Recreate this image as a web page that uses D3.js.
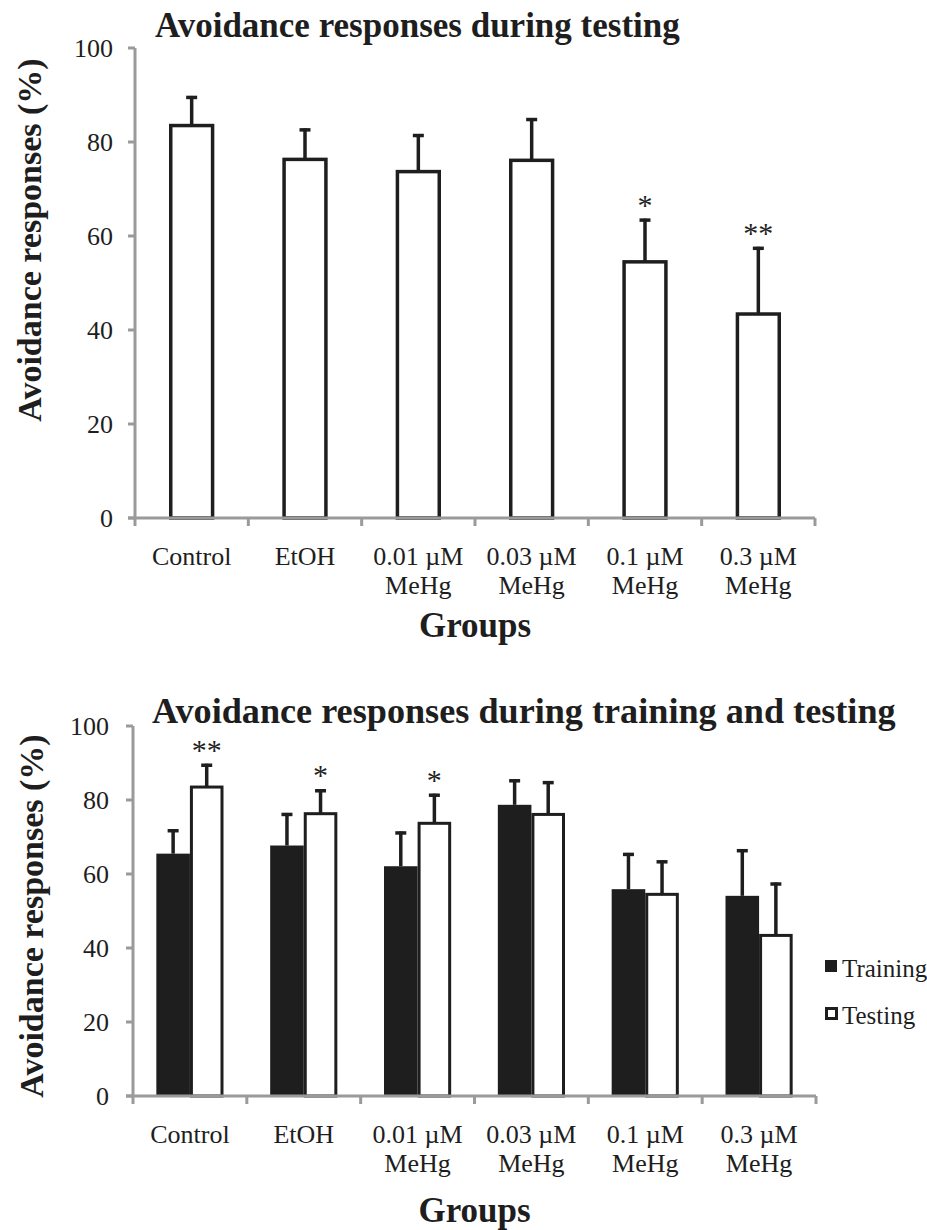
<!DOCTYPE html>
<html>
<head>
<meta charset="utf-8">
<script src="https://cdn.jsdelivr.net/npm/d3@7/dist/d3.min.js"></script>
<style>
  html, body { margin: 0; padding: 0; background: #fff; }
  svg text { font-family: "Liberation Serif", "Times New Roman", serif; fill: #1e1e1e; }
</style>
</head>
<body>
<svg id="chart" width="927" height="1230"></svg>
<script>
// Groups (tick labels, split over two lines where needed)
const groups = ["Control", "EtOH", "0.01 µM MeHg", "0.03 µM MeHg", "0.1 µM MeHg", "0.3 µM MeHg"];
const groupLines = [["Control"], ["EtOH"], ["0.01 µM", "MeHg"], ["0.03 µM", "MeHg"], ["0.1 µM", "MeHg"], ["0.3 µM", "MeHg"]];
const yTicks = [0, 20, 40, 60, 80, 100];

// Avoidance responses (%) – mean and SEM
const testingMean = [83.5, 76.3, 73.7, 76.1, 54.5, 43.4];
const testingSem  = [6.3, 6.6, 8.0, 9.0, 9.2, 14.3];
const trainingMean = [65.5, 67.7, 62.1, 78.7, 55.9, 54.1];
const trainingSem  = [6.6, 8.8, 9.4, 6.9, 9.8, 12.6];

// Significance marks above the testing bars
const topStars = ["", "", "", "", "*", "**"];
const bottomStars = ["**", "*", "*", "", "", ""];

const series = ["Training", "Testing"];

const svg = d3.select("#chart");
const axisColor = "#9a9a9a";
const ink = "#1e1e1e";

function drawAxes(g, x, y, x0, x1, opts) {
  // y axis line and ticks
  g.append("line").attr("x1", x0).attr("x2", x0)
    .attr("y1", y(100)).attr("y2", y(0))
    .attr("stroke", axisColor).attr("stroke-width", 3);
  g.selectAll(".ytick").data(yTicks).join("line")
    .attr("x1", x0 - 7).attr("x2", x0)
    .attr("y1", d => y(d)).attr("y2", d => y(d))
    .attr("stroke", axisColor).attr("stroke-width", 3);
  g.selectAll(".ylab").data(yTicks).join("text")
    .attr("x", x0 - opts.tickGap).attr("y", d => y(d) + 9)
    .attr("text-anchor", "end").attr("font-size", 26)
    .text(d => d);
  // x axis line and boundary ticks
  g.append("line").attr("x1", x0 - 7).attr("x2", x1)
    .attr("y1", y(0)).attr("y2", y(0))
    .attr("stroke", axisColor).attr("stroke-width", 3);
  const bounds = d3.range(groups.length + 1).map(i => x0 + i * x.step());
  g.selectAll(".xtick").data(bounds).join("line")
    .attr("x1", d => d).attr("x2", d => d)
    .attr("y1", y(0)).attr("y2", y(0) + 8)
    .attr("stroke", axisColor).attr("stroke-width", 3);
  // category labels
  groups.forEach((c, i) => {
    const cx = x(c) + x.bandwidth() / 2;
    groupLines[i].forEach((ln, j) => {
      g.append("text").attr("x", cx).attr("y", opts.labelY + j * 29)
        .attr("text-anchor", "middle").attr("font-size", 26).text(ln);
    });
  });
  // axis titles
  g.append("text").attr("x", (x0 + x1) / 2).attr("y", opts.groupsY)
    .attr("text-anchor", "middle").attr("font-size", 35).attr("font-weight", "bold")
    .text("Groups");
  g.append("text")
    .attr("transform", `translate(${opts.yTitleX},${opts.yTitleY}) rotate(-90)`)
    .attr("text-anchor", "middle").attr("font-size", 34).attr("font-weight", "bold")
    .text("Avoidance responses (%)");
}

function errorBar(g, cx, yTop, yErr) {
  g.append("line").attr("x1", cx).attr("x2", cx)
    .attr("y1", yTop).attr("y2", yErr)
    .attr("stroke", ink).attr("stroke-width", 3.5);
  g.append("line").attr("x1", cx - 5.5).attr("x2", cx + 5.5)
    .attr("y1", yErr + 1.5).attr("y2", yErr + 1.5)
    .attr("stroke", ink).attr("stroke-width", 3.5);
}

function star(g, cx, yPos, s) {
  g.append("text").attr("x", cx).attr("y", yPos)
    .attr("text-anchor", "middle").attr("font-size", 30).text(s);
}

// ---------- Top panel: testing only ----------
{
  const g = svg.append("g");
  const x0 = 135, x1 = 815;
  const x = d3.scaleBand().domain(groups).range([x0, x1]).paddingInner(0.6).paddingOuter(0.3);
  const y = d3.scaleLinear().domain([0, 100]).range([518, 48]);

  g.append("text").attr("x", 155).attr("y", 37)
    .attr("font-size", 35).attr("font-weight", "bold")
    .text("Avoidance responses during testing");

  groups.forEach((c, i) => {
    const bx = x(c), bw = x.bandwidth(), cx = bx + bw / 2;
    errorBar(g, cx, y(testingMean[i]), y(testingMean[i] + testingSem[i]));
    g.append("rect").attr("x", bx + 1.75).attr("y", y(testingMean[i]))
      .attr("width", bw - 3.5).attr("height", y(0) - y(testingMean[i]))
      .attr("fill", "#fff").attr("stroke", ink).attr("stroke-width", 3.5);
    if (topStars[i]) star(g, cx, y(testingMean[i] + testingSem[i]) - 4, topStars[i]);
  });

  drawAxes(g, x, y, x0, x1, { tickGap: 22, labelY: 565, groupsY: 637, yTitleX: 41, yTitleY: 240 });
}

// ---------- Bottom panel: training and testing ----------
{
  const g = svg.append("g");
  const x0 = 133, x1 = 816;
  const x = d3.scaleBand().domain(groups).range([x0, x1]).paddingInner(0.41).paddingOuter(0.205);
  const xs = d3.scaleBand().domain(series).range([0, x.bandwidth()]);
  const y = d3.scaleLinear().domain([0, 100]).range([1096, 726]);

  g.append("text").attr("x", 152).attr("y", 723)
    .attr("font-size", 36.2).attr("font-weight", "bold")
    .text("Avoidance responses during training and testing");

  groups.forEach((c, i) => {
    const bw = xs.bandwidth();
    // training bar
    const tx = x(c) + xs("Training");
    errorBar(g, tx + bw / 2, y(trainingMean[i]), y(trainingMean[i] + trainingSem[i]));
    g.append("rect").attr("x", tx).attr("y", y(trainingMean[i]))
      .attr("width", bw).attr("height", y(0) - y(trainingMean[i]))
      .attr("fill", ink);
    // testing bar
    const sx = x(c) + xs("Testing");
    errorBar(g, sx + bw / 2, y(testingMean[i]), y(testingMean[i] + testingSem[i]));
    g.append("rect").attr("x", sx + 1.5).attr("y", y(testingMean[i]))
      .attr("width", bw - 3).attr("height", y(0) - y(testingMean[i]))
      .attr("fill", "#fff").attr("stroke", ink).attr("stroke-width", 3);
    if (bottomStars[i]) {
      // keep marks clear of the panel title
      const sy = Math.max(y(testingMean[i] + testingSem[i]) - 4, y(93));
      star(g, sx + bw / 2, sy, bottomStars[i]);
    }
  });

  drawAxes(g, x, y, x0, x1, { tickGap: 24, labelY: 1143, groupsY: 1222, yTitleX: 43, yTitleY: 916 });

  // legend
  const legend = g.append("g");
  legend.append("rect").attr("x", 825).attr("y", 960).attr("width", 12).attr("height", 12).attr("fill", ink);
  legend.append("text").attr("x", 842).attr("y", 977).attr("font-size", 25).text(series[0]);
  legend.append("rect").attr("x", 826.5).attr("y", 1008.5).attr("width", 10).attr("height", 10)
    .attr("fill", "#fff").attr("stroke", ink).attr("stroke-width", 3);
  legend.append("text").attr("x", 842).attr("y", 1024).attr("font-size", 25).text(series[1]);
}
</script>
</body>
</html>
